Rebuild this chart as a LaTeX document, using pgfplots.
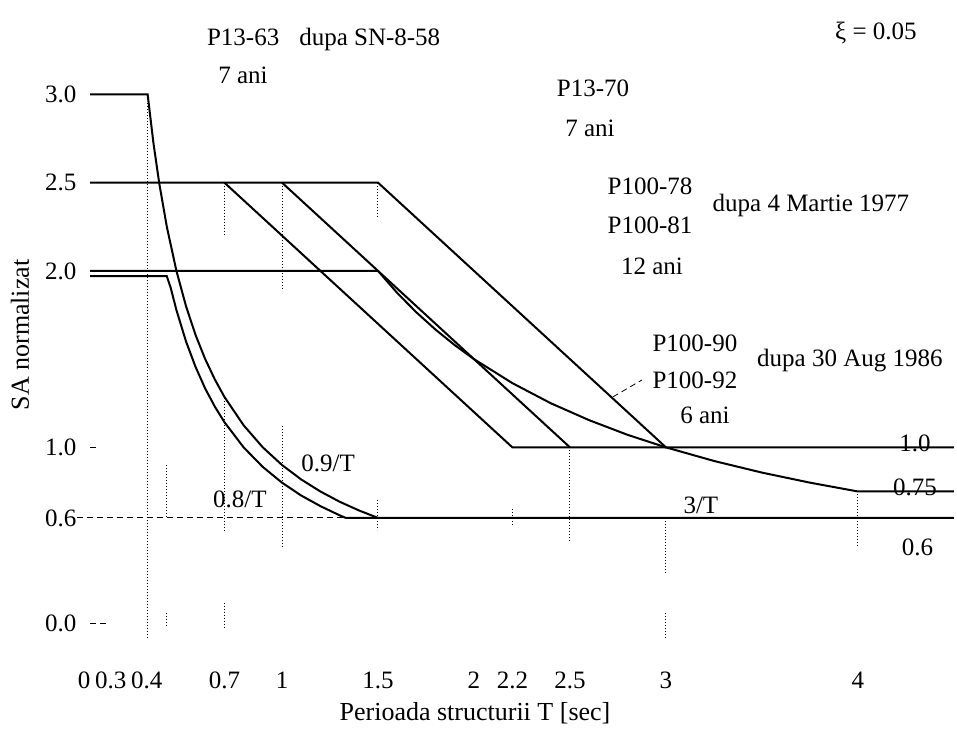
\documentclass[border=0pt]{standalone}
\usepackage{fontspec}
\setmainfont{Liberation Serif}
\usepackage{pgfplots}
\pgfplotsset{compat=1.18}

\begin{document}
\begin{tikzpicture}[font=\fontsize{12.5}{15}\selectfont]
\begin{axis}[
  x=96pt, y=88.25pt,
  xmin=0, xmax=4.5, ymin=0, ymax=3,
  clip=false,
  axis line style={draw=none},
  major tick length=0pt,
  xtick={0,0.3,0.4,0.7,1,1.5,2,2.2,2.5,3,4},
  xticklabels={\kern-3pt0\kern3pt,\kern-18.5pt0.3\kern18.5pt,\kern-10pt0.4\kern10pt,0.7,1,1.5,2,2.2,2.5,3,4},
  ytick={0,0.6,1,2,2.5,3},
  yticklabels={0.0,0.6,1.0,2.0,2.5,3.0},
  xticklabel style={anchor=base, yshift=-32.5pt},
  yticklabel style={xshift=-3.3pt},
  xlabel={Perioada structurii T [sec]},
  ylabel={SA normalizat},
  xlabel style={at={(axis description cs:0.4456,-0.168)}, anchor=center, font=\fontsize{13}{15}\selectfont},
  ylabel style={at={(axis description cs:-0.0811,0.5457)}, anchor=center, font=\fontsize{13}{15}\selectfont},
  sol/.style={black, line width=1pt},
  dot/.style={black, densely dotted, line width=0.5pt},
]
% frame of the whole picture
\path (axis cs:-0.469,-0.555) rectangle (axis cs:4.516,3.535);

% P13-63: 3.0 then 0.9/T, floor 0.6
\addplot[sol] coordinates {(0,3) (0.3,3) (0.33,2.727) (0.36,2.5) (0.4,2.25) (0.45,2.0) (0.5,1.8) (0.55,1.636) (0.6,1.5) (0.65,1.385) (0.7,1.286) (0.8,1.125) (0.9,1.0) (1.0,0.9) (1.1,0.818) (1.2,0.75) (1.3,0.692) (1.4,0.643) (1.5,0.6) (4.5,0.6)};
% P13-70: 2.0 then 0.8/T
\addplot[sol] coordinates {(0,1.97) (0.4,1.97) (0.42,1.905) (0.45,1.778) (0.5,1.6) (0.55,1.455) (0.6,1.333) (0.65,1.231) (0.7,1.143) (0.8,1.0) (0.9,0.889) (1.0,0.8) (1.1,0.727) (1.2,0.667) (1.3,0.615) (1.333,0.6) (1.5,0.6)};
% P100-92: 2.0 then 3/T, floor 0.75
\addplot[sol] coordinates {(0,2) (1.5,2) (1.6,1.875) (1.7,1.765) (1.8,1.667) (1.9,1.579) (2,1.5) (2.2,1.364) (2.4,1.25) (2.6,1.154) (2.8,1.071) (3,1) (3.25,0.923) (3.5,0.857) (3.75,0.8) (4,0.75) (4.5,0.75)};
% P100-78/81: 2.5 plateaus
\addplot[sol] coordinates {(0,2.5) (1.5,2.5) (3,1) (4.5,1)};
\addplot[sol] coordinates {(0.7,2.5) (2.2,1) (3,1)};
\addplot[sol] coordinates {(1,2.5) (2.5,1)};

% dotted guides
\addplot[black, densely dashed, line width=0.5pt] coordinates {(-0.07,0.6) (1.333,0.6)};
\addplot[dot] coordinates {(0.3,2.95) (0.3,-0.08)};
\addplot[dot] coordinates {(0.4,0.9) (0.4,0.6)};
\addplot[dot] coordinates {(0.4,0.06) (0.4,-0.02)};
\addplot[dot] coordinates {(0.7,2.5) (0.7,2.2)};
\addplot[dot] coordinates {(0.7,1.28) (0.7,0.53)};
\addplot[dot] coordinates {(0.7,0.12) (0.7,-0.03)};
\addplot[dot] coordinates {(1,2.5) (1,1.9)};
\addplot[dot] coordinates {(1,1.12) (1,0.43)};
\addplot[dot] coordinates {(1.5,2.5) (1.5,2.3)};
\addplot[dot] coordinates {(1.5,0.7) (1.5,0.53)};
\addplot[dot] coordinates {(2.2,0.65) (2.2,0.55)};
\addplot[dot] coordinates {(2.5,1) (2.5,0.46)};
\addplot[dot] coordinates {(3,0.6) (3,0.29)};
\addplot[dot] coordinates {(3,0.06) (3,-0.09)};
\addplot[dot] coordinates {(4,0.75) (4,0.44)};
\addplot[black, densely dashed, line width=0.5pt] coordinates {(0,0) (0.1,0)};
\addplot[black, line width=0.5pt] coordinates {(0,1) (0.03,1)};
\addplot[black, densely dashed, line width=0.4pt] coordinates {(2.724,1.286) (2.875,1.382)};

% annotations
\node[anchor=west] at (axis cs:0.573,3.309) {P13-63\hspace{0.8em}dupa SN-8-58};
\node at (axis cs:0.797,3.110) {7 ani};
\node at (axis cs:2.620,3.037) {P13-70};
\node at (axis cs:2.604,2.810) {7 ani};
\node at (axis cs:4.094,3.348) {ξ = 0.05};
\node at (axis cs:2.917,2.482) {P100-78};
\node at (axis cs:2.917,2.261) {P100-81};
\node at (axis cs:3.755,2.368) {dupa 4 Martie 1977};
\node at (axis cs:2.927,2.028) {12 ani};
\node at (axis cs:3.151,1.592) {P100-90};
\node at (axis cs:3.151,1.382) {P100-92};
\node at (axis cs:3.958,1.490) {dupa 30 Aug 1986};
\node at (axis cs:3.203,1.184) {6 ani};
\node[anchor=base] at (axis cs:4.297,0.975) {1.0};
\node[anchor=base] at (axis cs:4.297,0.727) {0.75};
\node at (axis cs:4.31,0.431) {0.6};
\node at (axis cs:3.182,0.669) {3/T};
\node at (axis cs:1.240,0.907) {0.9/T};
\node at (axis cs:0.781,0.703) {0.8/T};
\end{axis}
\end{tikzpicture}
\end{document}
